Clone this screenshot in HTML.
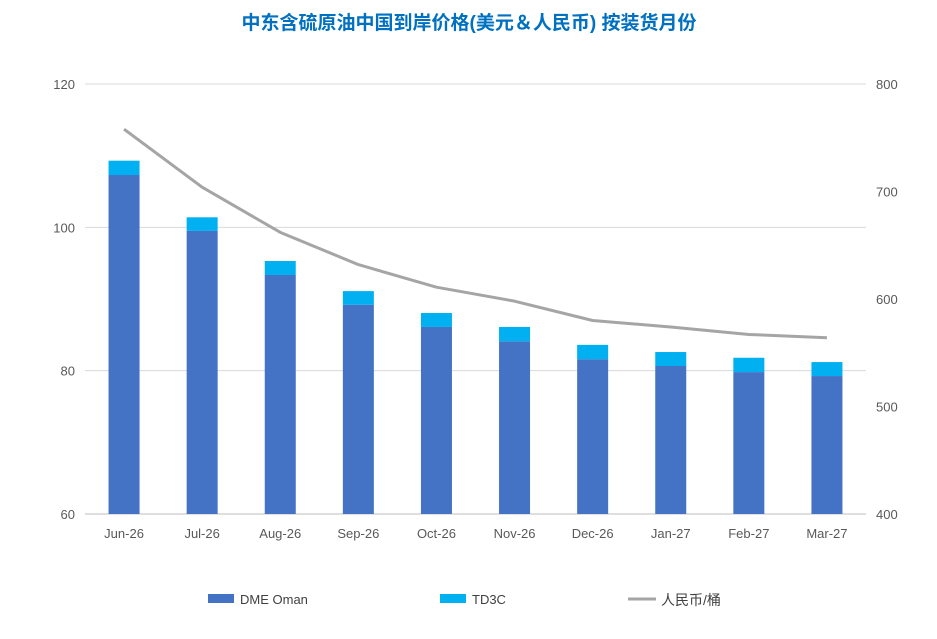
<!DOCTYPE html>
<html><head><meta charset="utf-8"><style>
body{margin:0;background:#fff;}
svg text{font-family:"Liberation Sans","Noto Sans CJK SC",sans-serif;}
</style></head><body>
<svg width="937" height="634" xmlns="http://www.w3.org/2000/svg">
<text x="469" y="29" text-anchor="middle" font-size="19" font-weight="bold" fill="#0070C0">中东含硫原油中国到岸价格(美元＆人民币) 按装货月份</text>
<g id="grid"></g><g id="bars"></g><g id="line"></g><g id="axes"></g>
<g>
<rect x="208" y="594" width="26" height="9" fill="#4472C4"/>
<text x="240" y="604" font-size="13" fill="#404040">DME Oman</text>
<rect x="440" y="594" width="26" height="9" fill="#00B0F0"/>
<text x="472" y="604" font-size="13" fill="#404040">TD3C</text>
<line x1="628" y1="599" x2="656" y2="599" stroke="#A5A5A5" stroke-width="3"/>
<text x="661" y="605" font-size="14" fill="#404040">人民币/桶</text>
</g>
</svg>
<script>
const categories=["Jun-26","Jul-26","Aug-26","Sep-26","Oct-26","Nov-26","Dec-26","Jan-27","Feb-27","Mar-27"];
const dme=[107.3,99.5,93.35,89.2,86.1,84.1,81.6,80.65,79.8,79.25];
const td3c=[2.0,1.9,1.95,1.9,1.95,2.0,2.0,1.95,2.0,1.95];
const rmb=[758,704,662,632,611,598,580,574,567,564];
const leftTicks=[60,80,100,120];
const rightTicks=[400,500,600,700,800];
const NS="http://www.w3.org/2000/svg";
const x0=85,x1=866,yB=514,yT=84;
const step=(x1-x0)/categories.length;
const xc=i=>x0+step*(i+0.5);
const yL=v=>yB-(v-60)/60*(yB-yT);
const yR=v=>yB-(v-400)/400*(yB-yT);
function mk(tag,attrs,parent){const e=document.createElementNS(NS,tag);for(const k in attrs)e.setAttribute(k,attrs[k]);document.getElementById(parent).appendChild(e);return e;}
leftTicks.forEach(t=>{
 const l=mk('line',{x1:x0,x2:x1,y1:yL(t),y2:yL(t),stroke:t===60?'#BFBFBF':'#D9D9D9','stroke-width':1},'grid');
 
 
 const tx=mk('text',{x:75,y:yL(t)+5,'text-anchor':'end','font-size':13,fill:'#595959'},'axes');tx.textContent=t;
 
 
});
rightTicks.forEach(t=>{
 const tx=mk('text',{x:876,y:yR(t)+5,'font-size':13,fill:'#595959'},'axes');tx.textContent=t;
 
 
});
categories.forEach((c,i)=>{
 const tx=mk('text',{x:xc(i),y:538,'text-anchor':'middle','font-size':13,fill:'#595959'},'axes');tx.textContent=c;
 
 
 const w=31;
 const b=mk('rect',{x:xc(i)-w/2,y:yL(dme[i]),width:w,height:yB-yL(dme[i]),fill:'#4472C4'},'bars');
 
 
 const b2=mk('rect',{x:xc(i)-w/2,y:yL(dme[i]+td3c[i]),width:w,height:yL(dme[i])-yL(dme[i]+td3c[i]),fill:'#00B0F0'},'bars');
 
 
});
const p=mk('polyline',{points:rmb.map((v,i)=>xc(i)+','+yR(v)).join(' '),fill:'none',stroke:'#A5A5A5','stroke-width':3,'stroke-linejoin':'round'},'line');


</script>
</body></html>
